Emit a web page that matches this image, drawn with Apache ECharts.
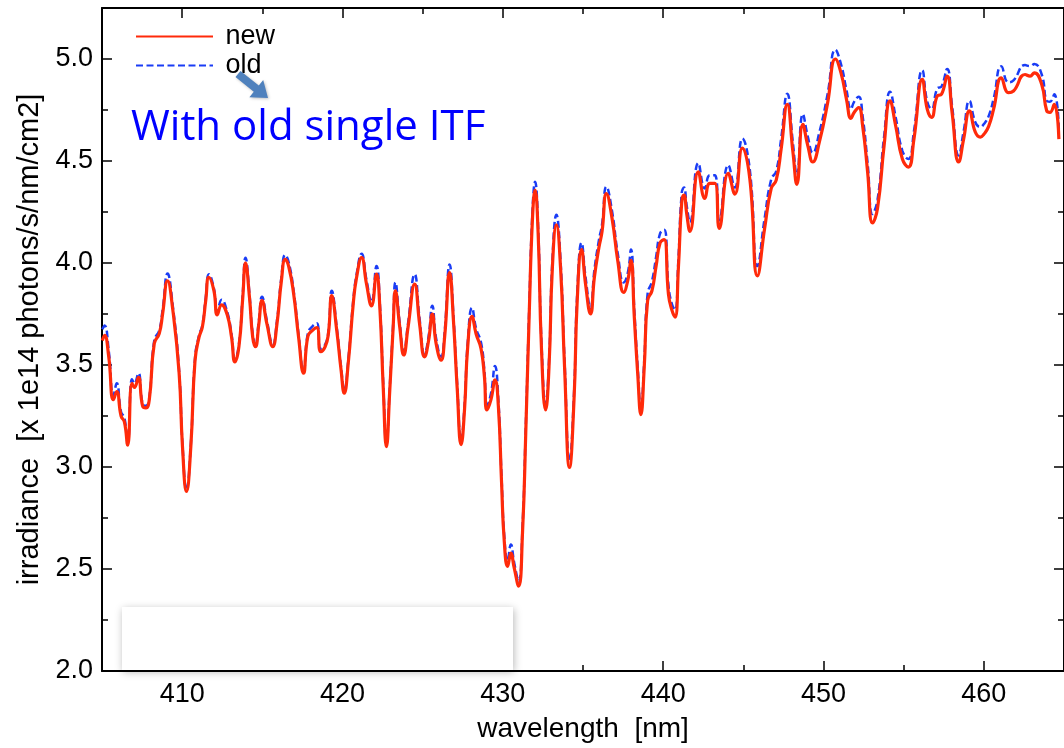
<!DOCTYPE html>
<html>
<head>
<meta charset="utf-8">
<script src="https://cdn.jsdelivr.net/npm/echarts@6/dist/echarts.min.js"></script>
<style>
html,body{margin:0;padding:0;background:#fff;}
#chart{width:1064px;height:748px;}
</style>
</head>
<body>
<div id="chart"></div>
<script>
const wavelength = [
405.02,405.16,405.42,405.71,405.92,406.19,406.40,406.60,406.87,407.02,407.27,407.53,407.74,407.95,408.26,408.57,408.78,409.09,409.40,409.81,
410.02,410.27,410.54,410.80,411.05,411.26,411.47,411.67,411.98,412.19,412.46,412.81,413.08,413.29,413.54,413.78,413.95,414.20,414.40,414.57,
414.78,414.98,415.29,415.65,415.91,416.19,416.43,416.64,
416.95,417.26,417.57,417.84,418.13,418.40,418.64,418.92,419.12,419.33,419.64,419.91,420.11,420.36,420.67,420.88,421.19,421.50,421.81,422.12,
422.33,422.54,422.74,422.95,423.16,423.30,423.57,423.82,424.09,424.50,424.81,425.12,425.37,425.60,425.84,426.15,426.37,426.68,426.92,427.15,
427.40,427.61,427.81,428.08,428.33,428.64,428.85,429.01,429.26,429.51,429.72,
429.92,430.09,430.30,430.50,430.71,430.98,431.23,431.43,431.64,431.85,432.01,432.20,432.41,432.67,432.88,433.09,433.34,433.60,433.85,434.16,
434.44,434.64,434.91,435.16,435.47,435.71,435.99,436.19,436.46,436.81,437.17,437.54,437.79,437.99,438.20,438.41,438.61,438.82,439.03,439.30,
439.56,439.81,440.06,
440.33,440.54,440.74,440.95,441.16,441.30,441.47,441.67,442.19,442.60,442.91,443.22,443.50,444.06,444.47,444.94,445.40,445.88,446.33,446.74,
447.05,447.36,447.74,448.09,448.34,448.71,449.02,449.33,449.74,450.26,450.74,451.09,451.44,451.71,451.91,452.19,452.44,452.75,453.06,453.37,
453.78,454.15,454.50,454.92,455.29,455.64,456.16,456.47,456.74,457.09,457.36,457.71,458.02,458.43,458.74,459.10,459.47,459.78,459.99,460.30,
460.61,461.09,461.54,461.85,462.57,462.88,463.15,463.61,463.92,464.12,464.39,464.68
];
const newIrr = [
3.62,3.645,3.54,3.33,3.37,3.25,3.22,3.107,3.41,3.39,3.44,3.30,3.29,3.33,3.605,3.654,3.75,3.913,3.78,3.46,
3.10,2.88,3.10,3.52,3.635,3.686,3.816,3.93,3.865,3.746,3.795,3.746,3.636,3.515,3.59,3.83,4.00,3.83,3.636,3.59,
3.70,3.816,3.70,3.59,3.70,3.913,4.018,3.985,
3.85,3.637,3.46,3.64,3.67,3.683,3.565,3.59,3.653,3.84,3.67,3.476,3.362,3.51,3.80,3.93,4.026,3.896,3.79,3.945,
3.78,3.39,3.10,3.378,3.686,3.864,3.686,3.549,3.686,3.896,3.70,3.54,3.62,3.75,3.605,3.524,3.637,3.953,3.718,3.39,
3.11,3.28,3.59,3.738,3.653,3.58,3.444,3.28,3.33,3.427,3.30,
2.925,2.635,2.513,2.578,2.505,2.416,2.683,3.168,3.735,4.22,4.357,4.148,3.58,3.28,3.49,3.977,4.187,3.977,3.49,2.998,
3.33,3.816,4.066,3.896,3.75,3.93,4.075,4.155,4.34,4.22,4.01,3.856,3.913,4.013,3.735,3.46,3.257,3.49,3.816,3.864,
3.985,4.099,4.115,
3.847,3.77,3.735,3.977,4.30,4.333,4.24,4.155,4.447,4.317,4.39,4.39,4.17,4.44,4.338,4.563,4.415,3.937,4.17,4.366,
4.406,4.56,4.778,4.546,4.385,4.68,4.576,4.495,4.592,4.786,5.00,4.932,4.80,4.709,4.738,4.762,4.673,4.447,4.196,4.268,
4.576,4.795,4.673,4.51,4.47,4.607,4.90,4.754,4.714,4.818,4.827,4.916,4.738,4.495,4.607,4.746,4.641,4.617,4.63,4.67,
4.754,4.908,4.835,4.843,4.924,4.916,4.932,4.875,4.746,4.738,4.778,4.607
];
const oldIrr = [
3.675,3.694,3.57,3.35,3.41,3.27,3.24,3.12,3.43,3.41,3.46,3.31,3.30,3.34,3.62,3.67,3.77,3.948,3.80,3.47,
3.11,2.89,3.11,3.53,3.645,3.695,3.83,3.945,3.875,3.76,3.82,3.76,3.65,3.53,3.60,3.85,4.026,3.845,3.65,3.60,
3.715,3.835,3.715,3.60,3.715,3.93,4.04,4.005,
3.865,3.65,3.47,3.655,3.69,3.705,3.58,3.60,3.665,3.864,3.685,3.49,3.375,3.525,3.815,3.945,4.045,3.915,3.81,3.985,
3.80,3.41,3.115,3.395,3.70,3.905,3.705,3.565,3.705,3.945,3.725,3.555,3.64,3.79,3.63,3.54,3.66,3.993,3.74,3.41,
3.13,3.30,3.61,3.78,3.68,3.61,3.47,3.30,3.36,3.495,3.33,
2.95,2.66,2.54,2.62,2.53,2.44,2.71,3.195,3.765,4.255,4.398,4.18,3.61,3.31,3.52,4.01,4.236,4.01,3.52,3.03,
3.36,3.85,4.099,3.93,3.78,3.965,4.11,4.19,4.374,4.255,4.045,3.905,3.95,4.066,3.77,3.49,3.285,3.52,3.85,3.91,
4.03,4.145,4.163,
3.89,3.80,3.77,4.02,4.345,4.37,4.28,4.20,4.49,4.365,4.43,4.43,4.21,4.48,4.37,4.61,4.46,3.985,4.22,4.41,
4.45,4.61,4.83,4.59,4.43,4.73,4.62,4.54,4.64,4.83,5.045,4.975,4.845,4.755,4.79,4.815,4.72,4.49,4.24,4.31,
4.62,4.84,4.715,4.55,4.51,4.645,4.945,4.79,4.755,4.855,4.865,4.951,4.77,4.527,4.645,4.795,4.69,4.667,4.68,4.72,
4.805,4.964,4.885,4.895,4.97,4.965,4.975,4.924,4.795,4.79,4.827,4.65
];
const xMajorTicks = [410, 420, 430, 440, 450, 460];
const xMinorTicks = [405, 415, 425, 435, 445, 455, 465];
const yMajorTicks = [2.0, 2.5, 3.0, 3.5, 4.0, 4.5, 5.0];
const yMinorTicks = [2.25, 2.75, 3.25, 3.75, 4.25, 4.75];
const seriesNames = ['new', 'old'];
const xTitle = 'wavelength  [nm]';
const yTitle = 'irradiance  [x 1e14 photons/s/nm/cm2]';
const noteText = 'With old single ITF';

const FONT = 'Liberation Sans';
const chart = echarts.init(document.getElementById('chart'), null, {renderer: 'canvas'});

function xAx(pos, ticks, len, withLine, withLabel) {
  return {
    type: 'value', min: 405, max: 465, position: pos, gridIndex: 0,
    axisLine: {show: withLine, onZero: false, lineStyle: {color: '#000', width: 2}},
    axisTick: {show: true, inside: true, length: len, customValues: ticks, lineStyle: {color: '#000', width: 1.5}},
    axisLabel: {show: withLabel, customValues: ticks, color: '#000', fontSize: 27, fontFamily: FONT, margin: 10},
    splitLine: {show: false},
    name: withLabel ? xTitle : '', nameLocation: 'middle', nameGap: 44,
    nameTextStyle: {color: '#000', fontSize: 28, fontFamily: FONT}
  };
}
function yAx(pos, ticks, len, withLine, withLabel) {
  return {
    type: 'value', min: 2.0, max: 5.25, position: pos, gridIndex: 0,
    axisLine: {show: withLine, onZero: false, lineStyle: {color: '#000', width: 2}},
    axisTick: {show: true, inside: true, length: len, customValues: ticks, lineStyle: {color: '#000', width: 1.5}},
    axisLabel: {show: withLabel, customValues: ticks, color: '#000', fontSize: 27, fontFamily: FONT, margin: 9,
      formatter: v => Number(v).toFixed(1)},
    splitLine: {show: false},
    name: withLabel ? yTitle : '', nameLocation: 'middle', nameGap: 55,
    nameTextStyle: {color: '#000', fontSize: 29, fontFamily: FONT}
  };
}

const option = {
  animation: false,
  backgroundColor: '#fff',
  grid: {left: 102, top: 8, width: 967, height: 669, containLabel: false},
  legend: {
    data: seriesNames, orient: 'vertical', left: 130, top: 18,
    itemWidth: 77, itemHeight: 14, itemGap: 2,
    itemStyle: {opacity: 0},
    formatter: name => ' ' + name,
    textStyle: {fontSize: 27, color: '#000', fontFamily: FONT, lineHeight: 27}
  },
  xAxis: [
    xAx('bottom', xMajorTicks, 10, true, true),
    xAx('bottom', xMinorTicks, 6, false, false),
    xAx('top', xMajorTicks, 10, true, false),
    xAx('top', xMinorTicks, 6, false, false)
  ],
  yAxis: [
    yAx('left', yMajorTicks, 10, true, true),
    yAx('left', yMinorTicks, 6, false, false),
    yAx('right', yMajorTicks, 10, true, false),
    yAx('right', yMinorTicks, 6, false, false)
  ],
  series: [
    {
      name: seriesNames[0], type: 'line', xAxisIndex: 0, yAxisIndex: 0, z: 3,
      data: wavelength.map((w, i) => [w, newIrr[i]]),
      symbol: 'none', smooth: 0.5,
      lineStyle: {color: '#ff2a0a', width: 3.2},
      itemStyle: {color: '#ff2a0a'}
    },
    {
      name: seriesNames[1], type: 'line', xAxisIndex: 0, yAxisIndex: 0, z: 2,
      data: wavelength.map((w, i) => [w, oldIrr[i]]),
      symbol: 'none', smooth: 0.5,
      lineStyle: {color: '#1a3cf5', width: 2.5, type: [7, 3.5]},
      itemStyle: {color: '#1a3cf5'}
    }
  ],
  graphic: [
    {
      type: 'polygon', z: 20,
      shape: {points: [[240.5,70.9],[258.8,85.5],[263.2,80.0],[268,98],[249.4,97.2],[253.8,91.7],[235.5,77.1]]},
      style: {fill: '#4f81bd', shadowBlur: 3, shadowColor: 'rgba(0,0,0,0.25)', shadowOffsetX: 1, shadowOffsetY: 1}
    },
    {
      type: 'text', z: 20, x: 131, y: 128,
      style: {text: noteText, fill: '#0000ff', fontSize: 42, fontFamily: 'Open Sans', verticalAlign: 'middle', align: 'left'}
    },
    {
      type: 'rect', z: 20,
      shape: {x: 122, y: 607, width: 391, height: 63},
      style: {fill: '#fff', shadowBlur: 8, shadowColor: 'rgba(0,0,0,0.28)', shadowOffsetX: 1, shadowOffsetY: 2}
    }
  ]
};
chart.setOption(option);
</script>
</body>
</html>
